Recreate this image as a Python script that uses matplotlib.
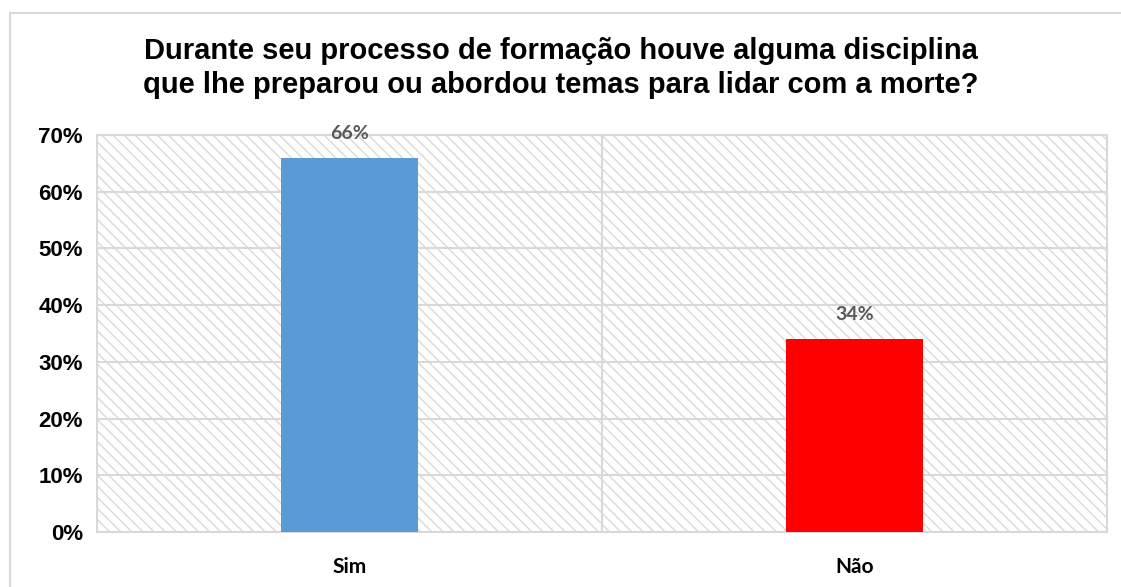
import matplotlib.pyplot as plt
from matplotlib.patches import Rectangle
from matplotlib.ticker import PercentFormatter

# dados
categorias = ['Sim', 'Não']
valores = [66, 34]
cores = ['#5b9bd5', '#ff0000']
titulo = 'Durante seu processo de formação houve alguma disciplina\nque lhe preparou ou abordou temas para lidar com a morte?'

plt.rcParams['hatch.color'] = '#dcdcdc'
plt.rcParams['hatch.linewidth'] = 1.0

fig = plt.figure(figsize=(11.21, 5.87), dpi=100)
ax = fig.add_axes([97 / 1121, 1 - 532 / 587, 1010 / 1121, 397 / 587])

# borda da area do grafico
fig.patches.append(Rectangle((10 / 1121, -0.1), 1.2, 1 - 13 / 587 + 0.1, transform=fig.transFigure,
                             fill=False, edgecolor='#d9d9d9', linewidth=1.5))

ax.set_facecolor('white')
ax.patch.set_hatch('\\\\\\')
ax.patch.set_edgecolor('#d9d9d9')

x = range(len(categorias))
bars = ax.bar(x, valores, width=0.273, color=cores, zorder=3)

for b, v in zip(bars, valores):
    ax.text(b.get_x() + b.get_width() / 2, v + 2.8, f'{v}%', ha='center', va='bottom',
            fontsize=14, fontweight='bold', color='#595959', family='Lato')

ax.set_xlim(-0.5, 1.5)
ax.set_ylim(0, 70)
ax.set_yticks(range(0, 71, 10))
ax.yaxis.set_major_formatter(PercentFormatter(decimals=0))
ax.set_xticks(x)
ax.set_xticklabels(categorias)
ax.set_xticks([0.5], minor=True)

ax.grid(axis='y', color='#d9d9d9', linewidth=1.5, zorder=1)
ax.grid(axis='x', which='minor', color='#d9d9d9', linewidth=1.5, zorder=1)
ax.set_axisbelow(True)
for s in ax.spines.values():
    s.set_color('#d9d9d9')
    s.set_linewidth(1.5)

ax.tick_params(axis='both', length=0, which='both')
ax.tick_params(axis='y', pad=10)
ax.tick_params(axis='x', pad=18)
for lab in ax.get_yticklabels():
    lab.set_fontsize(16)
    lab.set_fontweight('bold')
    lab.set_family('Liberation Sans')
for lab in ax.get_xticklabels():
    lab.set_fontsize(15)
    lab.set_fontweight('bold')
    lab.set_family('Lato')

fig.text(0.5, 1 - 68 / 587, titulo, ha='center', va='center', fontsize=21, fontweight='bold',
         family='Liberation Sans', linespacing=1.25)

fig.savefig('out.png', dpi=100)
